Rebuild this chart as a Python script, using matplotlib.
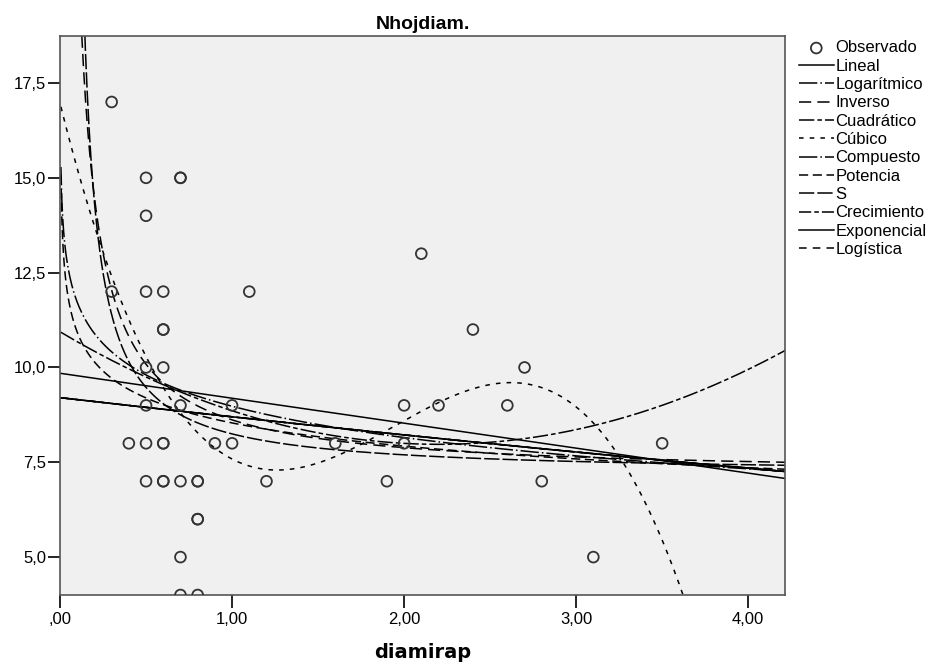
import numpy as np
import matplotlib.pyplot as plt
from matplotlib.ticker import FuncFormatter

# datos observados (diamirap, Nhojdiam.) - los circulos mas gruesos se repiten
diamirap = np.array([0.3, 0.5, 0.7, 0.7, 0.5, 0.3, 0.5, 0.6, 1.1, 2.1, 0.6, 0.6, 2.4,
                     0.5, 0.6, 2.7, 0.5, 0.7, 1.0, 2.0, 2.2, 2.6,
                     0.4, 0.5, 0.6, 0.6, 0.9, 1.0, 1.6, 2.0, 3.5,
                     0.5, 0.6, 0.6, 0.7, 0.8, 0.8, 1.2, 1.9, 2.8, 0.8, 0.8,
                     0.7, 3.1, 0.7, 0.8])
nhojdiam = np.array([17, 15, 15, 15, 14, 12, 12, 12, 12, 13, 11, 11, 11,
                     10, 10, 10, 9, 9, 9, 9, 9, 9,
                     8, 8, 8, 8, 8, 8, 8, 8, 8,
                     7, 7, 7, 7, 7, 7, 7, 7, 7, 6, 6,
                     5, 5, 4, 4])

modelos = ['Lineal', 'Logarítmico', 'Inverso', 'Cuadrático', 'Cúbico', 'Compuesto',
           'Potencia', 'S', 'Crecimiento', 'Exponencial', 'Logística']
estilos = ['-', (0, (12, 2, 1, 2)), (0, (8, 4)), (0, (10, 2, 3, 2)), (0, (3, 4)),
           (0, (12, 2, 1, 2)), (0, (6, 3)), (0, (10, 2)), (0, (8, 2, 3, 2)), '-', (0, (5, 4))]

x, y = diamirap, nhojdiam
lx, ly = np.log(x), np.log(y)
t = np.linspace(0.005, 4.22, 800)

# ajustes de cada modelo (como en estimacion curvilinea)
p = np.polyfit(x, y, 1)
lin = np.polyval(p, t)
p = np.polyfit(lx, y, 1)
log_ = np.polyval(p, np.log(t))
p = np.polyfit(1 / x, y, 1)
inv = np.polyval(p, 1 / t)
p = np.polyfit(x, y, 2)
cua = np.polyval(p, t)
p = np.polyfit(x, y, 3)
cub = np.polyval(p, t)
p = np.polyfit(x, ly, 1)
expo = np.exp(np.polyval(p, t))
p = np.polyfit(lx, ly, 1)
pot = np.exp(np.polyval(p, np.log(t)))
p = np.polyfit(1 / x, ly, 1)
s_ = np.exp(np.polyval(p, 1 / t))
curvas = [lin, log_, inv, cua, cub, expo, pot, s_, expo, expo, expo]

plt.rcParams['font.family'] = ['Liberation Sans', 'DejaVu Sans']
fig = plt.figure(figsize=(9.41, 6.64), dpi=100)
ax = fig.add_axes([0.0638, 0.1039, 0.7706, 0.8419])
ax.set_facecolor('#f0f0f0')

ax.scatter(x, y, s=60, facecolors='none', edgecolors='#333333', linewidths=1.3,
           label='Observado', zorder=3)
for nom, est, c in zip(modelos, estilos, curvas):
    ax.plot(t, c, color='black', lw=1.1, linestyle=est, label=nom)

ax.set_xlim(0, 4.215)
ax.set_ylim(4.0, 18.74)
ax.set_xticks([0, 1, 2, 3, 4])
ax.set_yticks([5, 7.5, 10, 12.5, 15, 17.5])


def fmt_x(v, _):
    s = ('%.2f' % v).replace('.', ',')
    return s[1:] if s.startswith('0') else s


ax.xaxis.set_major_formatter(FuncFormatter(fmt_x))
ax.yaxis.set_major_formatter(FuncFormatter(lambda v, _: ('%.1f' % v).replace('.', ',')))
ax.tick_params(direction='out', length=9, width=1.2, labelsize=12, pad=1)
ax.tick_params(axis='x', pad=3)
for sp in ax.spines.values():
    sp.set_color('#555555')
    sp.set_linewidth(1.2)

ax.set_title('Nhojdiam.', fontsize=14, fontweight='bold', pad=5)
ax.set_xlabel('diamirap', fontsize=14, fontweight='bold', family='DejaVu Sans', labelpad=12)

ax.legend(loc='upper left', bbox_to_anchor=(1.005, 1.01), frameon=False, fontsize=12,
          handlelength=2.1, handletextpad=0.1, labelspacing=0.2, borderaxespad=0.2)

fig.savefig('out.png', dpi=100)
